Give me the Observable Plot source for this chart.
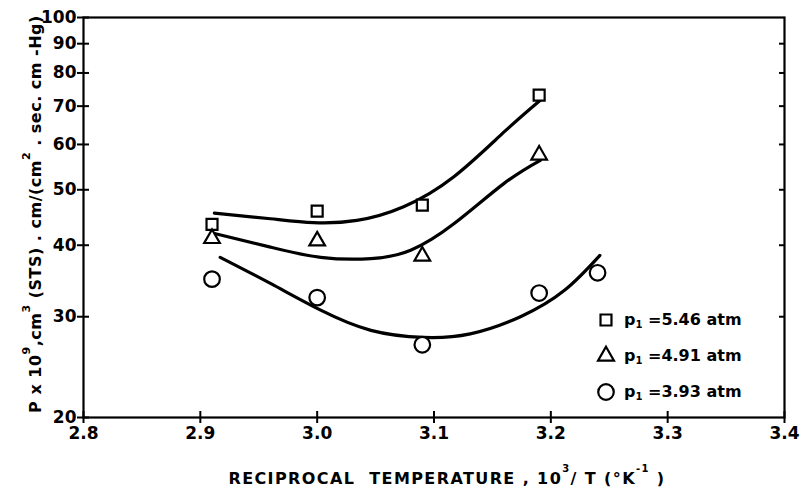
<!DOCTYPE html>
<html>
<head>
<meta charset="utf-8">
<script src="https://cdn.jsdelivr.net/npm/d3@7"></script>
<script src="https://cdn.jsdelivr.net/npm/@observablehq/plot@0.6"></script>
<style>
  html, body { margin: 0; padding: 0; background: #fff; }
  #wrap { position: relative; width: 800px; height: 488px; }
  #chart svg text { font-size: 17px; }
  #legend { position: absolute; left: 596px; top: 302px; font-family: "DejaVu Sans", sans-serif; font-size: 16px; color: #000; }
  #legend .row { height: 36px; display: flex; align-items: center; }
  #legend svg { width: 20px; height: 20px; margin-right: 8px; overflow: visible; }
  #legend sub { font-size: 10px; vertical-align: -3px; }
</style>
</head>
<body>
<div id="wrap"><div id="chart"></div><div id="legend"></div></div>
<script>
// ---- data ----
const xTicks = [2.8, 2.9, 3.0, 3.1, 3.2, 3.3, 3.4];
const yTicks = [20, 30, 40, 50, 60, 70, 80, 90, 100];

const seriesNames = ["5.46", "4.91", "3.93"];

// measured points
const sqX = [2.91, 3.00, 3.09, 3.19];
const sqY = [43.5, 45.9, 47.0, 73.2];
const triX = [2.91, 3.00, 3.09, 3.19];
const triY = [41.1, 40.7, 38.3, 57.5];
const cirX = [2.91, 3.00, 3.09, 3.19, 3.24];
const cirY = [34.9, 32.4, 26.8, 33.0, 35.8];

// fitted curves
const sqCurveX = [2.912, 2.960, 2.997, 3.034, 3.074, 3.117, 3.160, 3.191];
const sqCurveY = [45.5, 44.5, 43.8, 44.2, 46.7, 52.7, 63.1, 71.7];
const triCurveX = [2.913, 2.960, 3.003, 3.046, 3.080, 3.117, 3.160, 3.191];
const triCurveY = [41.9, 39.7, 38.1, 37.9, 39.2, 43.6, 51.3, 56.3];
const cirCurveX = [2.917, 2.960, 3.003, 3.046, 3.091, 3.131, 3.174, 3.212, 3.242];
const cirCurveY = [38.1, 34.3, 30.8, 28.4, 27.6, 28.0, 30.0, 33.4, 38.4];

const zip = (xs, ys) => xs.map((x, i) => ({x, y: ys[i]}));
const blank = () => "";

const chart = Plot.plot({
  width: 800,
  height: 488,
  marginLeft: 83,
  marginRight: 16,
  marginTop: 17,
  marginBottom: 71,
  style: {fontFamily: "DejaVu Sans, sans-serif", fontSize: "17px", fontWeight: "bold", color: "#000", background: "#fff"},
  x: {domain: [2.8, 3.4]},
  y: {type: "log", domain: [20, 100]},
  marks: [
    // cross ticks (half outside, half inside)
    Plot.axisX({ticks: xTicks, tickSize: 12, dy: -6, tickFormat: blank, label: null, strokeWidth: 2}),
    Plot.axisX({ticks: xTicks, tickSize: 0, tickPadding: 9, tickFormat: d3.format(".1f"), label: null, fontSize: 17}),
    Plot.axisY({ticks: yTicks, tickSize: 12, dx: 6, tickFormat: blank, label: null, strokeWidth: 2}),
    Plot.axisY({ticks: yTicks, tickSize: 0, tickPadding: 7, tickFormat: d3.format("d"), label: null, fontSize: 17}),
    Plot.axisY({anchor: "right", ticks: yTicks.slice(1, -1), tickSize: 6, dx: -6, tickFormat: blank, label: null, strokeWidth: 2}),
    Plot.frame({stroke: "#000", strokeWidth: 2.2}),
    Plot.line(zip(sqCurveX, sqCurveY), {x: "x", y: "y", curve: "natural", stroke: "#000", strokeWidth: 3.2}),
    Plot.line(zip(triCurveX, triCurveY), {x: "x", y: "y", curve: "natural", stroke: "#000", strokeWidth: 3.2}),
    Plot.line(zip(cirCurveX, cirCurveY), {x: "x", y: "y", curve: "natural", stroke: "#000", strokeWidth: 3.2}),
    Plot.dot(zip(sqX, sqY), {x: "x", y: "y", symbol: "square", r: 6.2, stroke: "#000", strokeWidth: 2.2, fill: "#fff"}),
    Plot.dot(zip(triX, triY), {x: "x", y: "y", symbol: "triangle", r: 5.8, stroke: "#000", strokeWidth: 2.2, fill: "#fff"}),
    Plot.dot(zip(cirX, cirY), {x: "x", y: "y", symbol: "circle", r: 7.8, stroke: "#000", strokeWidth: 2.2, fill: "#fff"})
  ]
});

document.getElementById("chart").appendChild(chart);

// axis titles
const svg = d3.select(chart);
const xt = svg.append("text")
  .attr("x", 447).attr("y", 484)
  .attr("text-anchor", "middle")
  .style("font-family", "DejaVu Sans, sans-serif")
  .style("font-size", "16px").style("font-weight", "bold")
  .style("letter-spacing", "1.4px")
  .attr("fill", "#000");
xt.append("tspan").text("RECIPROCAL  TEMPERATURE , 10");
xt.append("tspan").attr("dy", -12).style("font-size", "10px").text("3");
xt.append("tspan").attr("dy", 12).text("/ T (°K");
xt.append("tspan").attr("dy", -12).style("font-size", "10px").text("-1");
xt.append("tspan").attr("dy", 12).text(" )");

const yt = svg.append("text")
  .attr("transform", "translate(41,214) rotate(-90)")
  .attr("text-anchor", "middle")
  .style("font-family", "DejaVu Sans, sans-serif")
  .style("font-size", "16px").style("font-weight", "bold")
  .style("letter-spacing", "0.5px")
  .attr("fill", "#000");
yt.append("tspan").text("P x 10");
yt.append("tspan").attr("dy", -11).style("font-size", "11px").text("9");
yt.append("tspan").attr("dy", 11).text(",cm");
yt.append("tspan").attr("dy", -11).style("font-size", "11px").text("3");
yt.append("tspan").attr("dy", 11).text(" (STS) . cm/(cm");
yt.append("tspan").attr("dy", -11).style("font-size", "11px").text("2");
yt.append("tspan").attr("dy", 11).text(" . sec. cm -Hg)");

// legend
const symbols = [d3.symbolSquare, d3.symbolTriangle, d3.symbolCircle];
const sizes = [120, 110, 190];
const legend = d3.select("#legend");
seriesNames.forEach((name, i) => {
  const row = legend.append("div").attr("class", "row");
  const s = row.append("svg").attr("viewBox", "-10 -10 20 20");
  s.append("path").attr("d", d3.symbol(symbols[i], sizes[i])()).attr("fill", "#fff").attr("stroke", "#000").attr("stroke-width", 2.2);
  const t = row.append("span").style("font-weight", "bold");
  t.append("span").text("p");
  t.append("sub").text("1");
  t.append("span").text(" =" + name + " atm");
});
</script>
</body>
</html>
